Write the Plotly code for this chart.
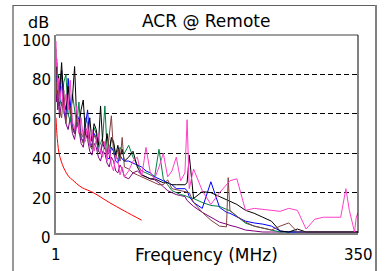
import plotly.graph_objects as go

# ---------------- data ----------------
FREQ_MHZ = [1, 1.5, 2, 3, 4,
            5, 7.5, 10, 12.5, 15, 17.5, 20, 22.5, 25, 27.5, 30, 32.5, 35, 37.5, 40, 42.5,
            45, 47.5, 50, 52.5, 55, 57.5, 60, 62.5, 65, 67.5, 70, 72.5, 75, 77.5, 80,
            85, 90, 95, 100, 105, 110, 115, 120, 125, 130, 135, 140, 145, 150, 152.5, 155, 160,
            170, 180, 190, 198, 200, 202, 210, 220, 230, 240, 250, 260, 270, 280, 290, 300,
            310, 320, 330, 336, 340, 346, 348, 350]

PAIR_MAGENTA = [97, 84, 88, 72, 78,
                66, 74, 60, 70, 62, 77, 56, 52, 64, 50, 58, 48, 46, 55, 44, 52, 41, 47, 50, 40,
                38, 46, 36, 44, 34, 31, 39, 36, 29, 33, 28,
                31, 36, 38, 28, 43, 30, 27, 33, 40, 28, 31, 38, 26, 30, 57, 22, 32,
                21, 14, 20, 24, 25, 26, 27, 11, 12, 11.5, 11, 10.5, 12, 11, 1.5, 6.5, 7.5, 7.5,
                7.5, 22, 11, 0, 7.6, 9.7]

PAIR_BLACK = [88, 80, 84, 76, 79,
              70, 86, 66, 62, 74, 60, 68, 84, 56, 54, 62, 67, 50, 48, 58, 46, 55, 52, 44, 64,
              45, 42, 50, 41, 48, 46, 39, 44, 38, 42, 36,
              38, 41, 33, 29, 28, 27, 27, 26, 25, 25, 24, 24, 24, 24, 25, 39, 17,
              20.5, 20, 18, 16.5, 16, 16, 14, 11, 9.5, 7.5, 5.5, 0.5, 0, 1.5, 0, 0, 0, 0,
              0, 0, 0, 0, 0, 0]

PAIR_BLUE = [80, 74, 82, 70, 76,
             64, 82, 62, 58, 78, 66, 54, 50, 60, 57, 48, 46, 54, 62, 45, 43, 50, 48, 41, 40,
             46, 44, 38, 37, 43, 41, 36, 35, 39, 37, 36,
             36, 35, 34, 33, 31, 30, 28, 27, 26, 25, 24, 22, 22, 22, 21, 18, 15,
             12, 25.5, 12.5, 10, 9.7, 9.5, 7.7, 5.5, 4.6, 4, 3, 0.5, 0, 0, 0, 0,
             0, 0, 0, 0, 0, 0, 0, 0]

PAIR_GREEN = [93, 78, 86, 74, 80,
              68, 64, 76, 80, 60, 56, 70, 63, 54, 66, 50, 48, 58, 55, 46, 44, 53, 50, 43, 45,
              48, 64, 42, 40, 47, 45, 38, 37, 43, 41, 40,
              44, 38, 34, 31, 30, 29, 28, 42, 27, 24, 21, 20, 19, 18.5, 18, 17.5, 17,
              15, 13.5, 13, 11.5, 11, 10.8, 8, 4.5, 3, 2, 1, 0, 0, 0, 0, 0,
              0, 0, 0, 0, 0, 0, 0, 0]

PAIR_BROWN = [82, 70, 76, 66, 72,
              62, 58, 72, 55, 66, 63, 52, 50, 58, 56, 48, 45, 53, 51, 44, 42, 49, 47, 41, 40,
              46, 45, 39, 50, 59, 40, 37, 42, 36, 48, 33,
              32, 30, 29, 28, 27, 26, 25, 24, 24, 26.5, 22, 21.5, 21, 20.5, 20, 20, 15,
              10, 6, 3, 2.6, 27.6, 11, 8, 5, 3, 2, 1, 3, 4.6, 0, 0, 0,
              0, 0, 0, 0, 0, 0, 0, 0]

PAIR_PURPLE = [76, 66, 72, 62, 68,
               58, 66, 62, 55, 52, 58, 50, 47, 55, 52, 45, 43, 50, 47, 41, 39, 45, 43, 38, 36,
               41, 40, 35, 33, 38, 36, 31, 30, 34, 32, 28,
               27, 30, 31, 29, 28, 27, 26.5, 25, 23, 21, 20, 19, 18.5, 18, 16, 15, 13,
               10, 7.7, 5, 4, 3.6, 3.4, 2.5, 1, 0.5, 0, 0, 0, 0, 0, 0, 0,
               0, 0, 0, 0, 0, 0, 0, 0]

LIMIT_FREQ = [1, 2, 3, 4.5, 7, 10, 16, 20, 25, 31.25, 44, 62.5, 80, 100]
LIMIT_ACR = [58, 50, 45, 40, 36, 32.5, 28, 26.5, 24.5, 22.5, 20, 15, 10.7, 6]

Y_TICKS = [0, 20, 40, 60, 80, 100]
X_TICKS = [1, 350]
TITLE = "ACR @ Remote"
X_TITLE = "Frequency (MHz)"
Y_UNIT = "dB"

# ---------------- figure ----------------
FONT = "DejaVu Sans"
W, H = 386, 271
L, R, T, B = 56, 28, 35, 38
PW, PH = W - L - R, H - T - B


def px(p):
    return (p - L) / PW


def py(p):
    return (H - B - p) / PH


fig = go.Figure()
series = [
    (PAIR_PURPLE, "#800080"),
    (PAIR_GREEN, "#008040"),
    (PAIR_BLUE, "#0000FF"),
    (PAIR_BLACK, "#000000"),
    (PAIR_BROWN, "#804040"),
    (PAIR_MAGENTA, "#FF3FC8"),
]
for vals, col in series:
    fig.add_trace(go.Scatter(x=FREQ_MHZ, y=vals, mode="lines",
                             line=dict(color=col, width=1), showlegend=False))
fig.add_trace(go.Scatter(x=LIMIT_FREQ, y=LIMIT_ACR, mode="lines", line_shape="spline",
                         line=dict(color="#FF0000", width=1), showlegend=False))

fig.update_xaxes(range=[1, 350], showgrid=False, zeroline=False, showticklabels=False,
                 ticks="", showline=True, linecolor="#808080", linewidth=2,
                 layer="below traces")
fig.update_yaxes(range=[-0.5, 100], tickvals=[20, 40, 60, 80], showgrid=True,
                 gridcolor="#000000", gridwidth=1, griddash="5px,3px",
                 zeroline=False, showticklabels=False, ticks="", showline=True,
                 linecolor="#808080", linewidth=2, layer="below traces")

ann = []
for v in Y_TICKS:
    ann.append(dict(x=0, xref="paper", y=v, yref="y", text=str(v), showarrow=False,
                    xanchor="right", yanchor="middle", xshift=-3, yshift=-6,
                    font=dict(family=FONT, size=15, color="#000")))
for v in X_TICKS:
    ann.append(dict(x=v, xref="x", y=0, yref="paper", text=str(v), showarrow=False,
                    xanchor="center", yanchor="middle", yshift=-22,
                    font=dict(family=FONT, size=15, color="#000")))
ann.append(dict(x=px(206), xref="paper", y=0, yref="paper", text=X_TITLE, showarrow=False,
                xanchor="center", yanchor="middle", yshift=-22,
                font=dict(family=FONT, size=17, color="#000")))
ann.append(dict(x=px(206), xref="paper", y=1, yref="paper", text=TITLE, showarrow=False,
                xanchor="center", yanchor="middle", yshift=14,
                font=dict(family=FONT, size=17, color="#000")))
ann.append(dict(x=0, xref="paper", y=1, yref="paper", text=Y_UNIT, showarrow=False,
                xanchor="right", yanchor="middle", xshift=-5, yshift=13,
                font=dict(family=FONT, size=16, color="#000")))

shapes = [
    dict(type="line", xref="paper", yref="paper", x0=0, x1=1, y0=1, y1=1,
         line=dict(color="#808080", width=1.5)),
    dict(type="line", xref="paper", yref="paper", x0=1, x1=1, y0=0, y1=1,
         line=dict(color="#000000", width=1)),
    dict(type="line", xref="paper", yref="paper", x0=px(13), x1=px(13), y0=py(5), y1=py(272),
         line=dict(color="#303030", width=1)),
    dict(type="line", xref="paper", yref="paper", x0=px(13), x1=px(377), y0=py(5.5), y1=py(5.5),
         line=dict(color="#606060", width=1)),
    dict(type="line", xref="paper", yref="paper", x0=px(376), x1=px(376), y0=py(5), y1=py(272),
         line=dict(color="#808080", width=2)),
]

fig.update_layout(width=W, height=H, margin=dict(l=L, r=R, t=T, b=B, pad=0),
                  paper_bgcolor="white", plot_bgcolor="white",
                  annotations=ann, shapes=shapes, showlegend=False,
                  font=dict(family=FONT))

fig.write_html("out.html", config={"displayModeBar": False, "staticPlot": True},
               post_script="document.body.style.margin='0px';document.body.style.overflow='hidden';")
